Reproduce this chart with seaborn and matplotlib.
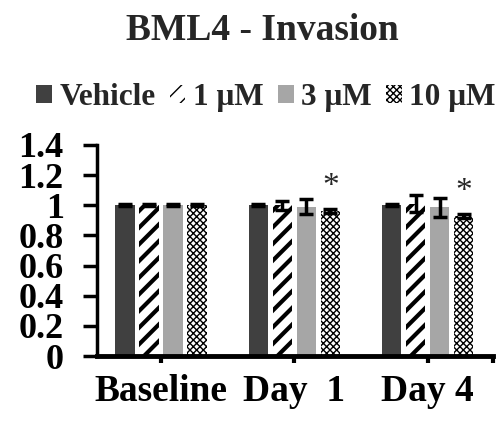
import pandas as pd
import matplotlib
matplotlib.use('Agg')
import matplotlib.pyplot as plt
import seaborn as sns
from matplotlib.ticker import FuncFormatter

# data
timepoints = ['Baseline', 'Day  1', 'Day 4']
doses = ['Vehicle', '1 μM', '3 μM', '10 μM']
vehicle = [1.00, 1.00, 1.00]
dose_1 = [1.00, 1.00, 1.01]
dose_3 = [1.00, 0.99, 0.985]
dose_10 = [1.00, 0.96, 0.93]
err_vehicle = [0.005, 0.005, 0.005]
err_1 = [0.008, 0.03, 0.055]
err_3 = [0.008, 0.05, 0.06]
err_10 = [0.008, 0.012, 0.012]
signif_10 = [False, True, True]  # asterisk over 10 uM

rows = []
for d, vals, errs in zip(doses, [vehicle, dose_1, dose_3, dose_10],
                         [err_vehicle, err_1, err_3, err_10]):
    for t, v, e in zip(timepoints, vals, errs):
        rows.append({'time': t, 'dose': d, 'value': v, 'err': e})
df = pd.DataFrame(rows)

sns.set_style('white')
plt.rcParams['font.family'] = ['Liberation Serif', 'DejaVu Serif']
plt.rcParams['font.weight'] = 'bold'
plt.rcParams['hatch.linewidth'] = 1.0

fig = plt.figure(figsize=(5, 4.21), dpi=100)
ax = fig.add_axes([0.194, 0.154, 0.792, 0.502])

palette = {'Vehicle': '#404040', '1 μM': 'white', '3 μM': '#a6a6a6', '10 μM': 'white'}
sns.barplot(data=df, x='time', y='value', hue='dose', order=timepoints,
            hue_order=doses, palette=palette, width=0.72, gap=0.2,
            errorbar=None, ax=ax, legend=True, saturation=1)

hatches = {'Vehicle': None, '1 μM': '//', '3 μM': None, '10 μM': 'xxxxx'}
hatch_lw = {'1 μM': 3.0, '10 μM': 1.0}


def style_patch(p, d):
    p.set_linewidth(0)
    p.set_edgecolor('none')
    if hatches[d]:
        p.set_hatch(hatches[d])
        p.set_edgecolor('black')
        try:
            p.set_hatch_linewidth(hatch_lw[d])
        except AttributeError:
            pass


for container, d in zip(ax.containers, doses):
    sub = df[df['dose'] == d].set_index('time').loc[timepoints]
    xs = []
    for bar in container:
        style_patch(bar, d)
        xs.append(bar.get_x() + bar.get_width() / 2)
    ax.errorbar(xs, sub['value'], yerr=sub['err'], fmt='none', ecolor='black',
                elinewidth=2.5, capsize=5, capthick=2.5)
    if d == '10 μM':
        for x, v, e, s in zip(xs, sub['value'], sub['err'], signif_10):
            if s:
                ax.text(x, v + e + 0.15, '*', ha='center', va='center',
                        fontsize=24, fontweight='normal')

ax.set_ylim(0, 1.4)
ax.set_xlim(-0.48, 2.49)
ax.set_yticks([0, 0.2, 0.4, 0.6, 0.8, 1.0, 1.2, 1.4])
ax.yaxis.set_major_formatter(FuncFormatter(lambda v, p: f'{v:g}'))
ax.set_xticks([2.49], minor=True)
ax.set_xlabel('')
ax.set_ylabel('')
sns.despine(ax=ax)
for s in ['left', 'bottom']:
    ax.spines[s].set_color('black')
ax.spines['left'].set_linewidth(2.5)
ax.spines['bottom'].set_linewidth(3.5)
ax.tick_params(axis='y', direction='out', length=10, width=2.5, labelsize=26,
               left=True, pad=14, colors='black')
ax.tick_params(axis='x', which='both', direction='out', length=5, width=3,
               labelsize=27, bottom=True, pad=8, colors='black')
for lab in ax.get_xticklabels() + ax.get_yticklabels():
    lab.set_fontweight('bold')

handles, labels = ax.get_legend_handles_labels()
ax.legend_.remove()
for h, d in zip(handles, doses):
    style_patch(h, d)
fig.legend(handles, labels, loc='center', bbox_to_anchor=(0.532, 0.768), ncol=4,
           frameon=False, prop={'weight': 'bold', 'size': 22.5},
           handlelength=0.5, handleheight=0.5, handletextpad=0.25,
           columnspacing=0.45, borderpad=0)

fig.suptitle('BML4 - Invasion', x=0.524, y=0.97, va='top', fontsize=27,
             fontweight='bold')

fig.savefig('out.png', dpi=100)
